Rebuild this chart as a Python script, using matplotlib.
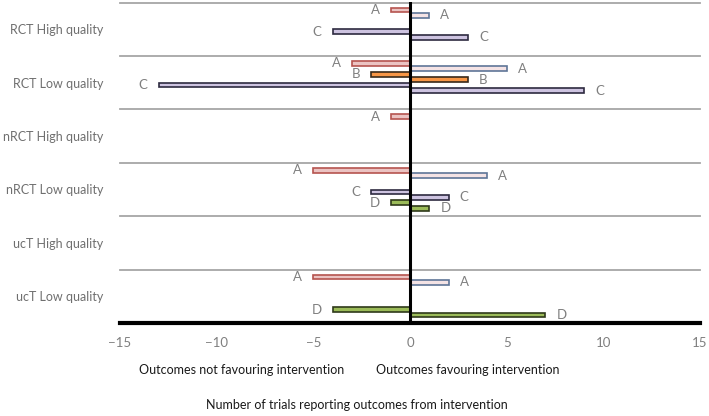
import matplotlib.pyplot as plt
import numpy as np

categories = ["RCT High quality", "RCT Low quality", "nRCT High quality",
              "nRCT Low quality", "ucT High quality", "ucT Low quality"]
# values per outcome type (negative = not favouring, positive = favouring); None = no bar
A_neg = [-1, -3, -1, -5, None, -5]
A_pos = [1, 5, None, 4, None, 2]
B_neg = [None, -2, None, None, None, None]
B_pos = [None, 3, None, None, None, None]
C_neg = [-4, -13, None, -2, None, None]
C_pos = [3, 9, None, 2, None, None]
D_neg = [None, None, None, -1, None, -4]
D_pos = [None, None, None, 1, None, 7]
xticks = [-15, -10, -5, 0, 5, 10, 15]

series = [
    ("A", A_neg, "#ebc3c2", "#b5544f"),
    ("A", A_pos, "#f4e3e5", "#5f7597"),
    ("B", B_neg, "#f79646", "#3a2a1a"),
    ("B", B_pos, "#f79646", "#3a2a1a"),
    ("C", C_neg, "#cdc3e0", "#2d2a40"),
    ("C", C_pos, "#cdc3e0", "#2d2a40"),
    ("D", D_neg, "#9bbb59", "#2f3a1a"),
    ("D", D_pos, "#9bbb59", "#2f3a1a"),
]

fig = plt.figure(figsize=(7.09, 4.16), dpi=100)
ax = fig.add_axes([120/709, 1 - 323/416, 580/709, 321/416])
font = ["Lato", "DejaVu Sans"]

n = len(categories)
slot = 5.5 / 54
first = 7.5 / 54
bh = 4.8 / 54
for j, (lab, vals, fc, ec) in enumerate(series):
    for i, v in enumerate(vals):
        if v is None:
            continue
        y = i + first + j * slot
        ax.barh(y, v, height=bh, color=fc, edgecolor=ec, linewidth=1.2, zorder=3)
        if v < 0:
            ax.annotate(lab, (v, y), xytext=(-8, 0), textcoords="offset points",
                        ha="right", va="center", color="#7f7f7f", fontsize=9.5, family=font)
        else:
            ax.annotate(lab, (v, y), xytext=(8, 0), textcoords="offset points",
                        ha="left", va="center", color="#7f7f7f", fontsize=9.5, family=font)

ax.set_xlim(-15, 15)
ax.set_ylim(n, -0.01)
for b in range(n):
    ax.axhline(b, color="#a6a6a6", linewidth=1.3, zorder=1, clip_on=False)
ax.axvline(0, color="black", linewidth=2.2, zorder=4)
for s in ["top", "right", "left"]:
    ax.spines[s].set_visible(False)
ax.spines["bottom"].set_linewidth(3)
ax.spines["bottom"].set_color("black")

ax.set_yticks([i + 0.5 for i in range(n)])
ax.set_yticklabels(categories, family=font, fontsize=9, color="#6f6f6f")
ax.tick_params(axis="y", length=0, pad=12)
ax.set_xticks(xticks)
ax.set_xticklabels([str(t).replace("-", "\u2212") for t in xticks], family=font,
                   fontsize=9.5, color="#7f7f7f")
ax.tick_params(axis="x", length=0, pad=10)

fig.text(242/709, 1 - 370/416, "Outcomes not favouring intervention", ha="center", va="center",
         fontsize=9, family=font, color="#1a1a1a")
fig.text(468/709, 1 - 370/416, "Outcomes favouring intervention", ha="center", va="center",
         fontsize=9, family=font, color="#1a1a1a")
fig.text(357/709, 1 - 405/416, "Number of trials reporting outcomes from intervention",
         ha="center", va="center", fontsize=9, family=font, color="#1a1a1a")

fig.savefig("out.png", dpi=100)
